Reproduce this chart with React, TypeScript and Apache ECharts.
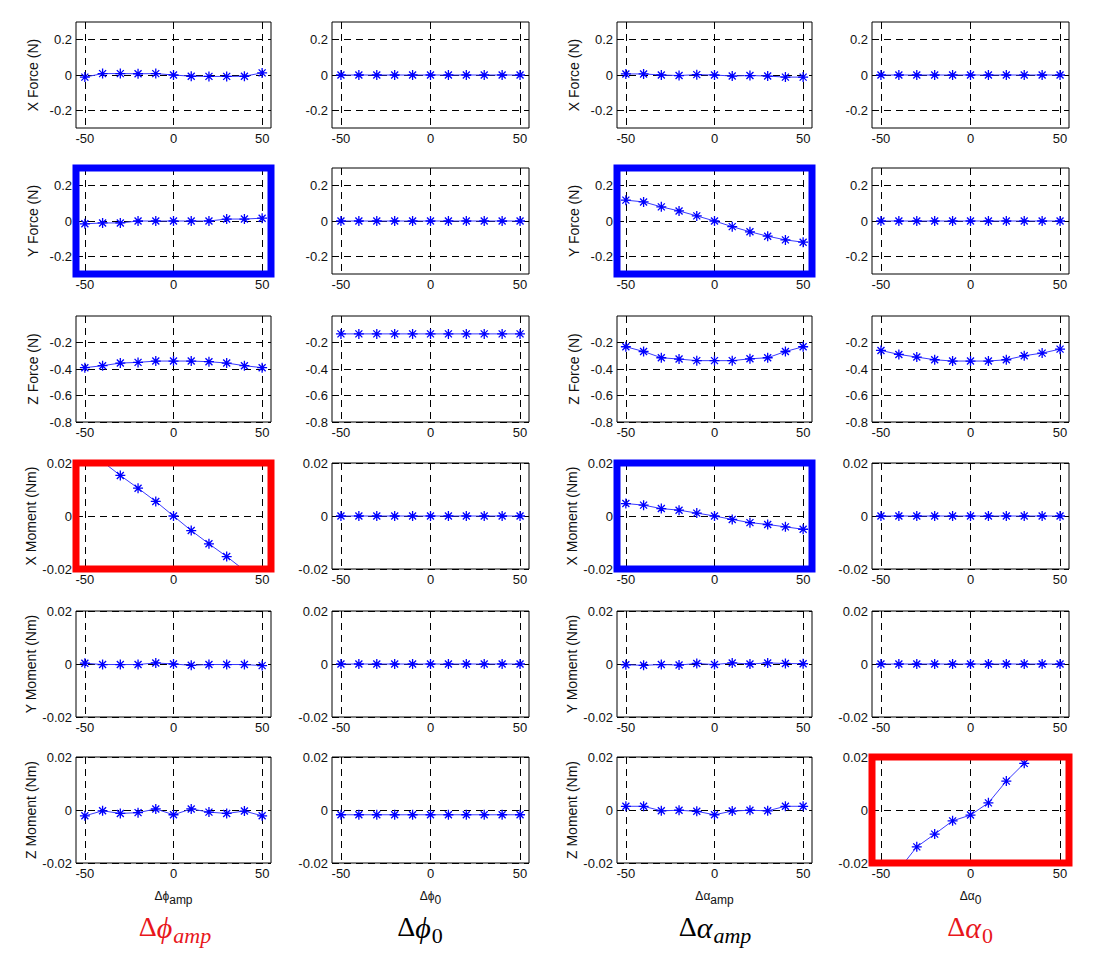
import React, { useEffect, useRef } from "react";
import * as echarts from "echarts";

// ---------- data ----------
const xValues = [-50, -40, -30, -20, -10, 0, 10, 20, 30, 40, 50];
const xTickValues = [-50, 0, 50];

const rowNames = ["X Force (N)", "Y Force (N)", "Z Force (N)", "X Moment (Nm)", "Y Moment (Nm)", "Z Moment (Nm)"];
const yMins = [-0.3, -0.3, -0.8, -0.02, -0.02, -0.02];
const yMaxs = [0.3, 0.3, 0, 0.02, 0.02, 0.02];
const yTickValues = [
  [-0.2, 0, 0.2],
  [-0.2, 0, 0.2],
  [-0.8, -0.6, -0.4, -0.2],
  [-0.02, 0, 0.02],
  [-0.02, 0, 0.02],
  [-0.02, 0, 0.02],
];

// columns: Δφamp, Δφ0, Δαamp, Δα0
const xForcePhiAmp = [-0.012, 0.008, 0.008, 0.007, 0.008, 0, -0.007, -0.008, -0.008, -0.007, 0.012];
const xForcePhi0 = [0, 0, 0, 0, 0, 0, 0, 0, 0, 0, 0];
const xForceAlphaAmp = [0.006, 0.006, 0.0, -0.003, 0.002, 0, -0.006, -0.003, -0.006, -0.012, -0.012];
const xForceAlpha0 = [0, 0, 0, 0, 0, 0, 0, 0, 0, 0, 0];

const yForcePhiAmp = [-0.016, -0.011, -0.011, 0, 0, 0, 0, 0, 0.011, 0.011, 0.016];
const yForcePhi0 = [0, 0, 0, 0, 0, 0, 0, 0, 0, 0, 0];
const yForceAlphaAmp = [0.118, 0.108, 0.08, 0.057, 0.029, 0, -0.032, -0.061, -0.086, -0.107, -0.12];
const yForceAlpha0 = [0, 0, 0, 0, 0, 0, 0, 0, 0, 0, 0];

const zForcePhiAmp = [-0.39, -0.375, -0.355, -0.35, -0.34, -0.34, -0.34, -0.345, -0.355, -0.375, -0.39];
const zForcePhi0 = [-0.135, -0.135, -0.135, -0.135, -0.135, -0.135, -0.135, -0.135, -0.135, -0.135, -0.135];
const zForceAlphaAmp = [-0.232, -0.268, -0.315, -0.325, -0.337, -0.337, -0.337, -0.323, -0.315, -0.268, -0.232];
const zForceAlpha0 = [-0.26, -0.29, -0.31, -0.33, -0.34, -0.34, -0.34, -0.33, -0.3, -0.28, -0.25];

const xMomentPhiAmp = [0.026, 0.0205, 0.0153, 0.0105, 0.0055, 0, -0.0055, -0.0105, -0.0153, -0.0205, -0.026];
const xMomentPhi0 = [0, 0, 0, 0, 0, 0, 0, 0, 0, 0, 0];
const xMomentAlphaAmp = [0.0047, 0.0041, 0.0028, 0.0022, 0.0011, 0, -0.0013, -0.0025, -0.0032, -0.0041, -0.005];
const xMomentAlpha0 = [0, 0, 0, 0, 0, 0, 0, 0, 0, 0, 0];

const yMomentPhiAmp = [0.0003, -0.0002, -0.0002, -0.0002, 0.0004, 0, -0.0005, -0.0002, -0.0002, -0.0002, -0.0006];
const yMomentPhi0 = [0, 0, 0, 0, 0, 0, 0, 0, 0, 0, 0];
const yMomentAlphaAmp = [-0.0003, -0.0005, -0.0002, -0.0004, 0.0002, -0.0002, 0.0004, 0, 0.0004, 0.0002, 0.0001];
const yMomentAlpha0 = [0, 0, 0, 0, 0, 0, 0, 0, 0, 0, 0];

const zMomentPhiAmp = [-0.0022, -0.0003, -0.0013, -0.001, 0.0004, -0.0018, 0.0004, -0.0008, -0.0013, -0.0004, -0.0022];
const zMomentPhi0 = [-0.0018, -0.0018, -0.0018, -0.0018, -0.0018, -0.0018, -0.0018, -0.0018, -0.0018, -0.0018, -0.0018];
const zMomentAlphaAmp = [0.0014, 0.0014, -0.0003, -0.0001, -0.0005, -0.0018, -0.0004, -0.0001, -0.0003, 0.0014, 0.0014];
const zMomentAlpha0 = [-0.03, -0.0225, -0.0139, -0.0091, -0.0041, -0.0019, 0.0027, 0.0109, 0.0176, 0.026, 0.033];

const panelValues = [
  [xForcePhiAmp, xForcePhi0, xForceAlphaAmp, xForceAlpha0],
  [yForcePhiAmp, yForcePhi0, yForceAlphaAmp, yForceAlpha0],
  [zForcePhiAmp, zForcePhi0, zForceAlphaAmp, zForceAlpha0],
  [xMomentPhiAmp, xMomentPhi0, xMomentAlphaAmp, xMomentAlpha0],
  [yMomentPhiAmp, yMomentPhi0, yMomentAlphaAmp, yMomentAlpha0],
  [zMomentPhiAmp, zMomentPhi0, zMomentAlphaAmp, zMomentAlpha0],
];

// highlighted panels: [row, col, color]
const highlights: [number, number, string][] = [
  [1, 0, "#0000ff"],
  [1, 2, "#0000ff"],
  [3, 2, "#0000ff"],
  [3, 0, "#ff0000"],
  [5, 3, "#ff0000"],
];

// column parameter labels
const smallGreek = ["ϕ", "ϕ", "α", "α"];
const smallSub = ["amp", "0", "amp", "0"];
const bigColors = ["#e8161b", "#000000", "#000000", "#e8161b"];

// ---------- layout ----------
const colLeft = [76, 332, 617, 872];
const colWidth = [195, 197, 195, 197];
const rowTop = [22, 168, 316, 463, 611, 757];
const rowHeight = 106;
const bigLabelX = [175, 420, 715, 970];
const bigLabelY = 927;

const SANS = "'Liberation Sans', Arial, Helvetica, sans-serif";
const SERIF = "'Liberation Serif', 'Times New Roman', 'DejaVu Serif', serif";
const ASTERISK = "path://M5 0L5 10M0 5L10 5M1.5 1.5L8.5 8.5M1.5 8.5L8.5 1.5";

function buildOption() {
  const grids: any[] = [];
  const xAxes: any[] = [];
  const yAxes: any[] = [];
  const series: any[] = [];

  for (let r = 0; r < 6; r++) {
    for (let c = 0; c < 4; c++) {
      const idx = r * 4 + c;
      const hl = highlights.find((h) => h[0] === r && h[1] === c);
      grids.push({
        left: colLeft[c],
        top: rowTop[r],
        width: colWidth[c],
        height: rowHeight,
        show: true,
        backgroundColor: "transparent",
        borderColor: hl ? hl[2] : "#000",
        borderWidth: hl ? 7 : 1,
        z: 10,
      });
      const xAxis: any = {
        gridIndex: idx,
        type: "value",
        min: -55,
        max: 55,
        axisLine: { show: false },
        axisTick: { show: false, customValues: xTickValues },
        axisLabel: {
          customValues: xTickValues,
          fontSize: 13,
          color: "#111",
          fontFamily: SANS,
          margin: 4,
        },
        splitLine: { show: true, lineStyle: { color: "#000", type: [7, 5], width: 1 } },
      };
      if (r === 5) {
        xAxis.name = `{g|Δ${smallGreek[c]}}{s|${smallSub[c]}}`;
        xAxis.nameLocation = "middle";
        xAxis.nameGap = 27;
        xAxis.nameTextStyle = {
          rich: {
            g: { fontSize: 12, fontFamily: SANS, color: "#111", lineHeight: 13, verticalAlign: "top" },
            s: { fontSize: 12, fontFamily: SANS, color: "#111", lineHeight: 13, verticalAlign: "top", padding: [4, 0, 0, 0] },
          },
        };
      }
      xAxes.push(xAxis);

      const yAxis: any = {
        gridIndex: idx,
        type: "value",
        min: yMins[r],
        max: yMaxs[r],
        axisLine: { show: false },
        axisTick: { show: false, customValues: yTickValues[r] },
        axisLabel: {
          customValues: yTickValues[r],
          fontSize: 13,
          color: "#111",
          fontFamily: SANS,
          margin: 4,
        },
        splitLine: { show: true, lineStyle: { color: "#000", type: [7, 5], width: 1 } },
      };
      if (c === 0 || c === 2) {
        yAxis.name = rowNames[r];
        yAxis.nameLocation = "middle";
        yAxis.nameGap = 36;
        yAxis.nameTextStyle = { fontSize: 14, color: "#111", fontFamily: SANS };
      }
      yAxes.push(yAxis);

      const vals = panelValues[r][c];
      series.push({
        type: "line",
        xAxisIndex: idx,
        yAxisIndex: idx,
        data: xValues.map((x, i) => [x, vals[i]]),
        symbol: ASTERISK,
        symbolSize: 10,
        itemStyle: { color: "#0000ff", borderColor: "#0000ff", borderWidth: 1.3 },
        lineStyle: { color: "#3a3aff", width: 1 },
        clip: true,
        silent: true,
        z: 2,
      });
    }
  }

  const graphics = [0, 1, 2, 3].map((c) => {
    const col = bigColors[c];
    const subItalic = smallSub[c] === "amp";
    return {
      type: "text",
      x: bigLabelX[c],
      y: bigLabelY,
      silent: true,
      style: {
        text: `{d|Δ}{g|${smallGreek[c]}}{s|${smallSub[c]}}`,
        align: "center",
        verticalAlign: "middle",
        fill: col,
        rich: {
          d: { fontFamily: SERIF, fontSize: 28, lineHeight: 30, verticalAlign: "top", fill: col },
          g: { fontFamily: SERIF, fontStyle: "italic", fontSize: 30, lineHeight: 30, verticalAlign: "top", fill: col },
          s: {
            fontFamily: SERIF,
            fontStyle: subItalic ? "italic" : "normal",
            fontSize: 22,
            lineHeight: 22,
            verticalAlign: "top",
            padding: [12, 0, 0, 1],
            fill: col,
          },
        },
      },
    };
  });

  return {
    animation: false,
    backgroundColor: "#ffffff",
    grid: grids,
    xAxis: xAxes,
    yAxis: yAxes,
    series,
    graphic: graphics,
  };
}

export default function App() {
  const ref = useRef<HTMLDivElement>(null);
  useEffect(() => {
    if (!ref.current) return;
    const chart = echarts.init(ref.current, undefined, { renderer: "svg" });
    chart.setOption(buildOption() as any);
    return () => chart.dispose();
  }, []);
  return (
    <div
      ref={ref}
      style={{ position: "absolute", left: 0, top: 0, width: 1107, height: 964, background: "#fff" }}
    />
  );
}
